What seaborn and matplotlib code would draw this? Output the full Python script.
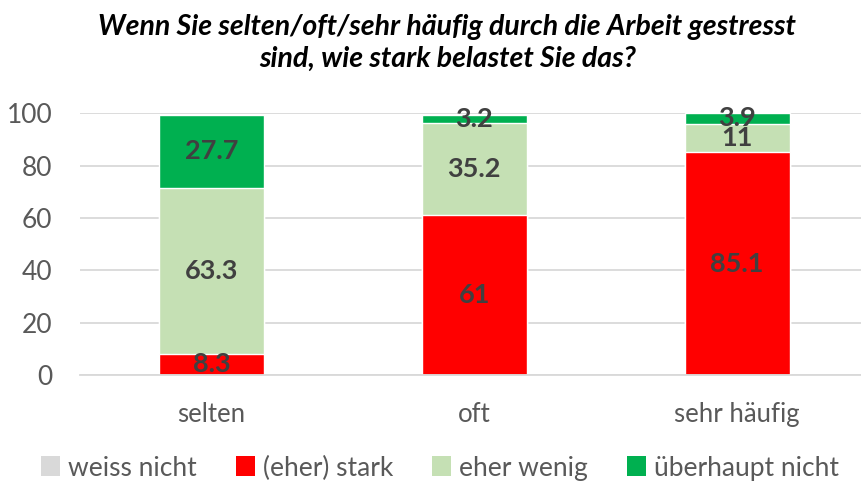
# stacked bar chart: Belastung durch Stress bei der Arbeit
import pandas as pd
import matplotlib.pyplot as plt
import seaborn as sns
from matplotlib.patches import Patch

# data
categories = ["selten", "oft", "sehr häufig"]
weiss_nicht = [0, 0, 0]
eher_stark = [8.3, 61, 85.1]
eher_wenig = [63.3, 35.2, 11]
ueberhaupt_nicht = [27.7, 3.2, 3.9]

series = ["weiss nicht", "(eher) stark", "eher wenig", "überhaupt nicht"]
colors = ["#D9D9D9", "#FF0000", "#C5E0B4", "#00B050"]

df = pd.DataFrame({
    "Kategorie": categories,
    "weiss nicht": weiss_nicht,
    "(eher) stark": eher_stark,
    "eher wenig": eher_wenig,
    "überhaupt nicht": ueberhaupt_nicht,
})

# cumulative totals for the overlay-style stacking
cum = df[series].cumsum(axis=1)
bottoms = cum - df[series]

sns.set_theme(style="white")
plt.rcParams["font.family"] = ["Lato", "DejaVu Sans"]

fig, ax = plt.subplots(figsize=(8.62, 4.86), dpi=100)
ax.set_position([80 / 862, 0.2278, (868.5 - 80) / 862, 0.7669 - 0.2278])

# draw tallest layer first, then the lower ones on top
for name, col in reversed(list(zip(series, colors))):
    sns.barplot(x=df["Kategorie"], y=cum[name], color=col, width=0.4,
                saturation=1, ax=ax, zorder=2)

# value labels in the middle of each segment
for name in series:
    for i, v in enumerate(df[name]):
        if v > 0:
            ax.text(i, bottoms.loc[i, name] + v / 2, f"{v:g}", ha="center",
                    va="center", fontsize=19.5, fontweight="bold",
                    color="#404040", zorder=3)

ax.set_ylim(0, 100)
ax.set_yticks(range(0, 101, 20))
ax.set_xlabel("")
ax.set_ylabel("")
ax.yaxis.grid(True, color="#D9D9D9", linewidth=1.3, zorder=0)
ax.set_axisbelow(True)
for s in ["top", "right", "left"]:
    ax.spines[s].set_visible(False)
ax.spines["bottom"].set_color("#D9D9D9")
ax.spines["bottom"].set_linewidth(1.3)
ax.tick_params(axis="y", length=0, pad=20, labelsize=19, labelcolor="#595959")
ax.tick_params(axis="x", length=0, pad=19, labelsize=18.5, labelcolor="#595959")

# title
fig.text(0.519, 0.912,
         "Wenn Sie selten/oft/sehr häufig durch die Arbeit gestresst\nsind, wie stark belastet Sie das?",
         ha="center", va="center", fontsize=20.5, fontweight="bold",
         fontstyle="italic", color="black", linespacing=1.25)

# legend
handles = [Patch(facecolor=c, edgecolor="none", label=n) for n, c in zip(series, colors)]
fig.legend(handles=handles, loc="center", bbox_to_anchor=(440 / 862, 0.037),
           ncol=4, frameon=False, fontsize=19, handlelength=0.7,
           handleheight=0.8, handletextpad=0.3, columnspacing=1.5,
           labelcolor="#595959")

plt.savefig("out.png", dpi=100)
